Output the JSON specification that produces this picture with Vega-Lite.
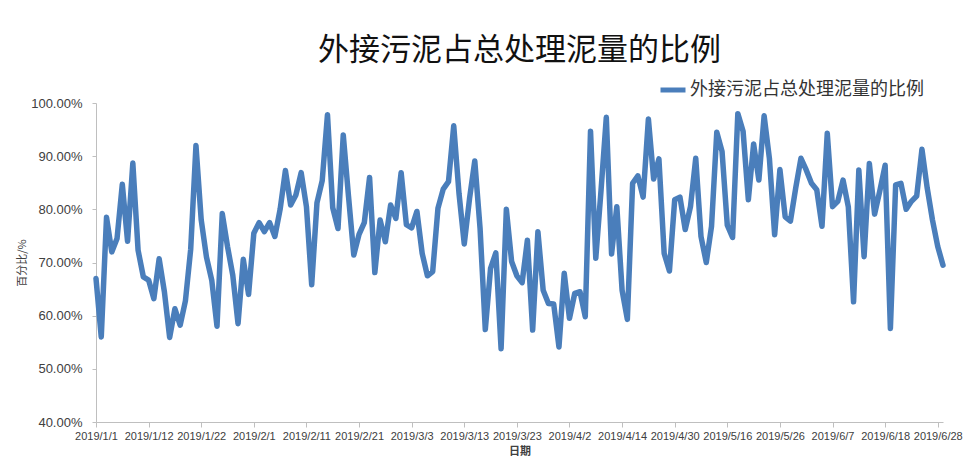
{
  "$schema": "https://vega.github.io/schema/vega-lite/v6.json",
  "autosize": "none",
  "width": 847,
  "height": 319,
  "padding": {"left": 96, "top": 103, "right": 32, "bottom": 48},
  "background": "#ffffff",
  "title": {
    "text": "外接污泥占总处理泥量的比例",
    "font": "Noto Sans CJK SC",
    "fontSize": 31,
    "fontWeight": "normal",
    "color": "#111111",
    "anchor": "middle",
    "offset": 8
  },
  "config": {
    "view": {"stroke": null},
    "axis": {"grid": false}
  },
  "data": {
    "values": [
      {"date": "2019/1/1", "ratio": 0.670, "series": "外接污泥占总处理泥量的比例"},
      {"date": "2019/1/2", "ratio": 0.560, "series": "外接污泥占总处理泥量的比例"},
      {"date": "2019/1/3", "ratio": 0.785, "series": "外接污泥占总处理泥量的比例"},
      {"date": "2019/1/4", "ratio": 0.720, "series": "外接污泥占总处理泥量的比例"},
      {"date": "2019/1/5", "ratio": 0.745, "series": "外接污泥占总处理泥量的比例"},
      {"date": "2019/1/7", "ratio": 0.847, "series": "外接污泥占总处理泥量的比例"},
      {"date": "2019/1/8", "ratio": 0.740, "series": "外接污泥占总处理泥量的比例"},
      {"date": "2019/1/9", "ratio": 0.887, "series": "外接污泥占总处理泥量的比例"},
      {"date": "2019/1/10", "ratio": 0.723, "series": "外接污泥占总处理泥量的比例"},
      {"date": "2019/1/11", "ratio": 0.673, "series": "外接污泥占总处理泥量的比例"},
      {"date": "2019/1/12", "ratio": 0.667, "series": "外接污泥占总处理泥量的比例"},
      {"date": "2019/1/13", "ratio": 0.632, "series": "外接污泥占总处理泥量的比例"},
      {"date": "2019/1/14", "ratio": 0.707, "series": "外接污泥占总处理泥量的比例"},
      {"date": "2019/1/15", "ratio": 0.645, "series": "外接污泥占总处理泥量的比例"},
      {"date": "2019/1/16", "ratio": 0.559, "series": "外接污泥占总处理泥量的比例"},
      {"date": "2019/1/17", "ratio": 0.613, "series": "外接污泥占总处理泥量的比例"},
      {"date": "2019/1/18", "ratio": 0.582, "series": "外接污泥占总处理泥量的比例"},
      {"date": "2019/1/19", "ratio": 0.628, "series": "外接污泥占总处理泥量的比例"},
      {"date": "2019/1/20", "ratio": 0.725, "series": "外接污泥占总处理泥量的比例"},
      {"date": "2019/1/21", "ratio": 0.920, "series": "外接污泥占总处理泥量的比例"},
      {"date": "2019/1/22", "ratio": 0.780, "series": "外接污泥占总处理泥量的比例"},
      {"date": "2019/1/23", "ratio": 0.710, "series": "外接污泥占总处理泥量的比例"},
      {"date": "2019/1/24", "ratio": 0.667, "series": "外接污泥占总处理泥量的比例"},
      {"date": "2019/1/25", "ratio": 0.580, "series": "外接污泥占总处理泥量的比例"},
      {"date": "2019/1/26", "ratio": 0.792, "series": "外接污泥占总处理泥量的比例"},
      {"date": "2019/1/27", "ratio": 0.730, "series": "外接污泥占总处理泥量的比例"},
      {"date": "2019/1/28", "ratio": 0.676, "series": "外接污泥占总处理泥量的比例"},
      {"date": "2019/1/29", "ratio": 0.585, "series": "外接污泥占总处理泥量的比例"},
      {"date": "2019/1/30", "ratio": 0.706, "series": "外接污泥占总处理泥量的比例"},
      {"date": "2019/1/31", "ratio": 0.640, "series": "外接污泥占总处理泥量的比例"},
      {"date": "2019/2/1", "ratio": 0.755, "series": "外接污泥占总处理泥量的比例"},
      {"date": "2019/2/2", "ratio": 0.775, "series": "外接污泥占总处理泥量的比例"},
      {"date": "2019/2/3", "ratio": 0.758, "series": "外接污泥占总处理泥量的比例"},
      {"date": "2019/2/4", "ratio": 0.775, "series": "外接污泥占总处理泥量的比例"},
      {"date": "2019/2/5", "ratio": 0.749, "series": "外接污泥占总处理泥量的比例"},
      {"date": "2019/2/6", "ratio": 0.800, "series": "外接污泥占总处理泥量的比例"},
      {"date": "2019/2/7", "ratio": 0.873, "series": "外接污泥占总处理泥量的比例"},
      {"date": "2019/2/8", "ratio": 0.808, "series": "外接污泥占总处理泥量的比例"},
      {"date": "2019/2/9", "ratio": 0.827, "series": "外接污泥占总处理泥量的比例"},
      {"date": "2019/2/10", "ratio": 0.869, "series": "外接污泥占总处理泥量的比例"},
      {"date": "2019/2/11", "ratio": 0.805, "series": "外接污泥占总处理泥量的比例"},
      {"date": "2019/2/12", "ratio": 0.658, "series": "外接污泥占总处理泥量的比例"},
      {"date": "2019/2/13", "ratio": 0.812, "series": "外接污泥占总处理泥量的比例"},
      {"date": "2019/2/14", "ratio": 0.854, "series": "外接污泥占总处理泥量的比例"},
      {"date": "2019/2/15", "ratio": 0.978, "series": "外接污泥占总处理泥量的比例"},
      {"date": "2019/2/16", "ratio": 0.803, "series": "外接污泥占总处理泥量的比例"},
      {"date": "2019/2/17", "ratio": 0.764, "series": "外接污泥占总处理泥量的比例"},
      {"date": "2019/2/18", "ratio": 0.940, "series": "外接污泥占总处理泥量的比例"},
      {"date": "2019/2/19", "ratio": 0.824, "series": "外接污泥占总处理泥量的比例"},
      {"date": "2019/2/20", "ratio": 0.714, "series": "外接污泥占总处理泥量的比例"},
      {"date": "2019/2/21", "ratio": 0.753, "series": "外接污泥占总处理泥量的比例"},
      {"date": "2019/2/22", "ratio": 0.775, "series": "外接污泥占总处理泥量的比例"},
      {"date": "2019/2/23", "ratio": 0.860, "series": "外接污泥占总处理泥量的比例"},
      {"date": "2019/2/24", "ratio": 0.681, "series": "外接污泥占总处理泥量的比例"},
      {"date": "2019/2/25", "ratio": 0.780, "series": "外接污泥占总处理泥量的比例"},
      {"date": "2019/2/26", "ratio": 0.739, "series": "外接污泥占总处理泥量的比例"},
      {"date": "2019/2/27", "ratio": 0.808, "series": "外接污泥占总处理泥量的比例"},
      {"date": "2019/2/28", "ratio": 0.783, "series": "外接污泥占总处理泥量的比例"},
      {"date": "2019/3/1", "ratio": 0.869, "series": "外接污泥占总处理泥量的比例"},
      {"date": "2019/3/2", "ratio": 0.771, "series": "外接污泥占总处理泥量的比例"},
      {"date": "2019/3/3", "ratio": 0.765, "series": "外接污泥占总处理泥量的比例"},
      {"date": "2019/3/4", "ratio": 0.796, "series": "外接污泥占总处理泥量的比例"},
      {"date": "2019/3/5", "ratio": 0.717, "series": "外接污泥占总处理泥量的比例"},
      {"date": "2019/3/6", "ratio": 0.675, "series": "外接污泥占总处理泥量的比例"},
      {"date": "2019/3/7", "ratio": 0.683, "series": "外接污泥占总处理泥量的比例"},
      {"date": "2019/3/8", "ratio": 0.802, "series": "外接污泥占总处理泥量的比例"},
      {"date": "2019/3/9", "ratio": 0.838, "series": "外接污泥占总处理泥量的比例"},
      {"date": "2019/3/10", "ratio": 0.852, "series": "外接污泥占总处理泥量的比例"},
      {"date": "2019/3/11", "ratio": 0.957, "series": "外接污泥占总处理泥量的比例"},
      {"date": "2019/3/12", "ratio": 0.830, "series": "外接污泥占总处理泥量的比例"},
      {"date": "2019/3/13", "ratio": 0.735, "series": "外接污泥占总处理泥量的比例"},
      {"date": "2019/3/14", "ratio": 0.820, "series": "外接污泥占总处理泥量的比例"},
      {"date": "2019/3/15", "ratio": 0.891, "series": "外接污泥占总处理泥量的比例"},
      {"date": "2019/3/16", "ratio": 0.765, "series": "外接污泥占总处理泥量的比例"},
      {"date": "2019/3/17", "ratio": 0.574, "series": "外接污泥占总处理泥量的比例"},
      {"date": "2019/3/18", "ratio": 0.689, "series": "外接污泥占总处理泥量的比例"},
      {"date": "2019/3/19", "ratio": 0.718, "series": "外接污泥占总处理泥量的比例"},
      {"date": "2019/3/20", "ratio": 0.538, "series": "外接污泥占总处理泥量的比例"},
      {"date": "2019/3/21", "ratio": 0.800, "series": "外接污泥占总处理泥量的比例"},
      {"date": "2019/3/22", "ratio": 0.702, "series": "外接污泥占总处理泥量的比例"},
      {"date": "2019/3/23", "ratio": 0.675, "series": "外接污泥占总处理泥量的比例"},
      {"date": "2019/3/24", "ratio": 0.662, "series": "外接污泥占总处理泥量的比例"},
      {"date": "2019/3/25", "ratio": 0.742, "series": "外接污泥占总处理泥量的比例"},
      {"date": "2019/3/26", "ratio": 0.573, "series": "外接污泥占总处理泥量的比例"},
      {"date": "2019/3/27", "ratio": 0.758, "series": "外接污泥占总处理泥量的比例"},
      {"date": "2019/3/28", "ratio": 0.648, "series": "外接污泥占总处理泥量的比例"},
      {"date": "2019/3/29", "ratio": 0.623, "series": "外接污泥占总处理泥量的比例"},
      {"date": "2019/3/30", "ratio": 0.622, "series": "外接污泥占总处理泥量的比例"},
      {"date": "2019/3/31", "ratio": 0.541, "series": "外接污泥占总处理泥量的比例"},
      {"date": "2019/4/1", "ratio": 0.680, "series": "外接污泥占总处理泥量的比例"},
      {"date": "2019/4/2", "ratio": 0.595, "series": "外接污泥占总处理泥量的比例"},
      {"date": "2019/4/3", "ratio": 0.642, "series": "外接污泥占总处理泥量的比例"},
      {"date": "2019/4/4", "ratio": 0.645, "series": "外接污泥占总处理泥量的比例"},
      {"date": "2019/4/5", "ratio": 0.598, "series": "外接污泥占总处理泥量的比例"},
      {"date": "2019/4/8", "ratio": 0.947, "series": "外接污泥占总处理泥量的比例"},
      {"date": "2019/4/9", "ratio": 0.708, "series": "外接污泥占总处理泥量的比例"},
      {"date": "2019/4/10", "ratio": 0.836, "series": "外接污泥占总处理泥量的比例"},
      {"date": "2019/4/11", "ratio": 0.973, "series": "外接污泥占总处理泥量的比例"},
      {"date": "2019/4/12", "ratio": 0.716, "series": "外接污泥占总处理泥量的比例"},
      {"date": "2019/4/13", "ratio": 0.805, "series": "外接污泥占总处理泥量的比例"},
      {"date": "2019/4/14", "ratio": 0.648, "series": "外接污泥占总处理泥量的比例"},
      {"date": "2019/4/15", "ratio": 0.593, "series": "外接污泥占总处理泥量的比例"},
      {"date": "2019/4/16", "ratio": 0.849, "series": "外接污泥占总处理泥量的比例"},
      {"date": "2019/4/17", "ratio": 0.863, "series": "外接污泥占总处理泥量的比例"},
      {"date": "2019/4/18", "ratio": 0.823, "series": "外接污泥占总处理泥量的比例"},
      {"date": "2019/4/19", "ratio": 0.970, "series": "外接污泥占总处理泥量的比例"},
      {"date": "2019/4/22", "ratio": 0.857, "series": "外接污泥占总处理泥量的比例"},
      {"date": "2019/4/23", "ratio": 0.895, "series": "外接污泥占总处理泥量的比例"},
      {"date": "2019/4/24", "ratio": 0.717, "series": "外接污泥占总处理泥量的比例"},
      {"date": "2019/4/25", "ratio": 0.684, "series": "外接污泥占总处理泥量的比例"},
      {"date": "2019/4/30", "ratio": 0.818, "series": "外接污泥占总处理泥量的比例"},
      {"date": "2019/5/5", "ratio": 0.823, "series": "外接污泥占总处理泥量的比例"},
      {"date": "2019/5/6", "ratio": 0.762, "series": "外接污泥占总处理泥量的比例"},
      {"date": "2019/5/7", "ratio": 0.805, "series": "外接污泥占总处理泥量的比例"},
      {"date": "2019/5/8", "ratio": 0.896, "series": "外接污泥占总处理泥量的比例"},
      {"date": "2019/5/9", "ratio": 0.749, "series": "外接污泥占总处理泥量的比例"},
      {"date": "2019/5/10", "ratio": 0.700, "series": "外接污泥占总处理泥量的比例"},
      {"date": "2019/5/13", "ratio": 0.768, "series": "外接污泥占总处理泥量的比例"},
      {"date": "2019/5/14", "ratio": 0.945, "series": "外接污泥占总处理泥量的比例"},
      {"date": "2019/5/15", "ratio": 0.909, "series": "外接污泥占总处理泥量的比例"},
      {"date": "2019/5/16", "ratio": 0.770, "series": "外接污泥占总处理泥量的比例"},
      {"date": "2019/5/17", "ratio": 0.747, "series": "外接污泥占总处理泥量的比例"},
      {"date": "2019/5/18", "ratio": 0.980, "series": "外接污泥占总处理泥量的比例"},
      {"date": "2019/5/19", "ratio": 0.947, "series": "外接污泥占总处理泥量的比例"},
      {"date": "2019/5/20", "ratio": 0.818, "series": "外接污泥占总处理泥量的比例"},
      {"date": "2019/5/21", "ratio": 0.923, "series": "外接污泥占总处理泥量的比例"},
      {"date": "2019/5/22", "ratio": 0.855, "series": "外接污泥占总处理泥量的比例"},
      {"date": "2019/5/23", "ratio": 0.976, "series": "外接污泥占总处理泥量的比例"},
      {"date": "2019/5/24", "ratio": 0.896, "series": "外接污泥占总处理泥量的比例"},
      {"date": "2019/5/25", "ratio": 0.752, "series": "外接污泥占总处理泥量的比例"},
      {"date": "2019/5/26", "ratio": 0.875, "series": "外接污泥占总处理泥量的比例"},
      {"date": "2019/5/27", "ratio": 0.786, "series": "外接污泥占总处理泥量的比例"},
      {"date": "2019/5/28", "ratio": 0.778, "series": "外接污泥占总处理泥量的比例"},
      {"date": "2019/5/29", "ratio": 0.840, "series": "外接污泥占总处理泥量的比例"},
      {"date": "2019/5/30", "ratio": 0.896, "series": "外接污泥占总处理泥量的比例"},
      {"date": "2019/5/31", "ratio": 0.874, "series": "外接污泥占总处理泥量的比例"},
      {"date": "2019/6/1", "ratio": 0.849, "series": "外接污泥占总处理泥量的比例"},
      {"date": "2019/6/2", "ratio": 0.837, "series": "外接污泥占总处理泥量的比例"},
      {"date": "2019/6/3", "ratio": 0.768, "series": "外接污泥占总处理泥量的比例"},
      {"date": "2019/6/4", "ratio": 0.943, "series": "外接污泥占总处理泥量的比例"},
      {"date": "2019/6/7", "ratio": 0.805, "series": "外接污泥占总处理泥量的比例"},
      {"date": "2019/6/8", "ratio": 0.815, "series": "外接污泥占总处理泥量的比例"},
      {"date": "2019/6/9", "ratio": 0.855, "series": "外接污泥占总处理泥量的比例"},
      {"date": "2019/6/10", "ratio": 0.805, "series": "外接污泥占总处理泥量的比例"},
      {"date": "2019/6/11", "ratio": 0.626, "series": "外接污泥占总处理泥量的比例"},
      {"date": "2019/6/12", "ratio": 0.874, "series": "外接污泥占总处理泥量的比例"},
      {"date": "2019/6/13", "ratio": 0.711, "series": "外接污泥占总处理泥量的比例"},
      {"date": "2019/6/14", "ratio": 0.886, "series": "外接污泥占总处理泥量的比例"},
      {"date": "2019/6/15", "ratio": 0.791, "series": "外接污泥占总处理泥量的比例"},
      {"date": "2019/6/17", "ratio": 0.835, "series": "外接污泥占总处理泥量的比例"},
      {"date": "2019/6/18", "ratio": 0.883, "series": "外接污泥占总处理泥量的比例"},
      {"date": "2019/6/19", "ratio": 0.576, "series": "外接污泥占总处理泥量的比例"},
      {"date": "2019/6/20", "ratio": 0.846, "series": "外接污泥占总处理泥量的比例"},
      {"date": "2019/6/21", "ratio": 0.849, "series": "外接污泥占总处理泥量的比例"},
      {"date": "2019/6/22", "ratio": 0.800, "series": "外接污泥占总处理泥量的比例"},
      {"date": "2019/6/23", "ratio": 0.815, "series": "外接污泥占总处理泥量的比例"},
      {"date": "2019/6/24", "ratio": 0.825, "series": "外接污泥占总处理泥量的比例"},
      {"date": "2019/6/25", "ratio": 0.913, "series": "外接污泥占总处理泥量的比例"},
      {"date": "2019/6/26", "ratio": 0.840, "series": "外接污泥占总处理泥量的比例"},
      {"date": "2019/6/27", "ratio": 0.780, "series": "外接污泥占总处理泥量的比例"},
      {"date": "2019/6/28", "ratio": 0.730, "series": "外接污泥占总处理泥量的比例"},
      {"date": "2019/6/29", "ratio": 0.695, "series": "外接污泥占总处理泥量的比例"}
    ]
  },
  "mark": {"type": "line", "strokeWidth": 5.5, "strokeJoin": "round", "strokeCap": "round"},
  "encoding": {
    "x": {
      "field": "date",
      "type": "ordinal",
      "sort": null,
      "scale": {"type": "point", "padding": 0},
      "axis": {
        "values": ["2019/1/1", "2019/1/12", "2019/1/22", "2019/2/1", "2019/2/11", "2019/2/21", "2019/3/3", "2019/3/13", "2019/3/23", "2019/4/2", "2019/4/14", "2019/4/30", "2019/5/16", "2019/5/26", "2019/6/7", "2019/6/18", "2019/6/28"],
        "labelAngle": 0,
        "labelFont": "Liberation Sans",
        "labelFontSize": 11,
        "labelColor": "#404040",
        "labelPadding": 3,
        "labelOverlap": false,
        "tickSize": 5,
        "tickColor": "#bfbfbf",
        "domainColor": "#bfbfbf",
        "title": "日期",
        "titleFont": "Noto Sans CJK SC",
        "titleFontSize": 11,
        "titleFontWeight": "bold",
        "titleColor": "#404040",
        "titlePadding": 4
      }
    },
    "y": {
      "field": "ratio",
      "type": "quantitative",
      "scale": {"domain": [0.4, 1.0], "nice": false, "zero": false},
      "axis": {
        "values": [0.4, 0.5, 0.6, 0.7, 0.8, 0.9, 1.0],
        "format": ".2%",
        "labelFont": "Liberation Sans",
        "labelFontSize": 13,
        "labelColor": "#404040",
        "labelPadding": 10,
        "tickSize": 4,
        "tickColor": "#bfbfbf",
        "domainColor": "#bfbfbf",
        "title": "百分比/%",
        "titleFont": "Noto Sans CJK SC",
        "titleFontSize": 11,
        "titleFontWeight": "normal",
        "titleColor": "#404040",
        "titlePadding": 3
      }
    },
    "color": {
      "field": "series",
      "type": "nominal",
      "scale": {"range": ["#4a7ebb"]},
      "legend": {
        "title": null,
        "orient": "none",
        "legendX": 562,
        "legendY": -28,
        "padding": 0,
        "symbolType": "stroke",
        "symbolStrokeWidth": 5,
        "symbolSize": 625,
        "labelFont": "Noto Sans CJK SC",
        "labelFontSize": 18,
        "labelColor": "#333333",
        "labelOffset": 2,
        "labelLimit": 400
      }
    }
  }
}
